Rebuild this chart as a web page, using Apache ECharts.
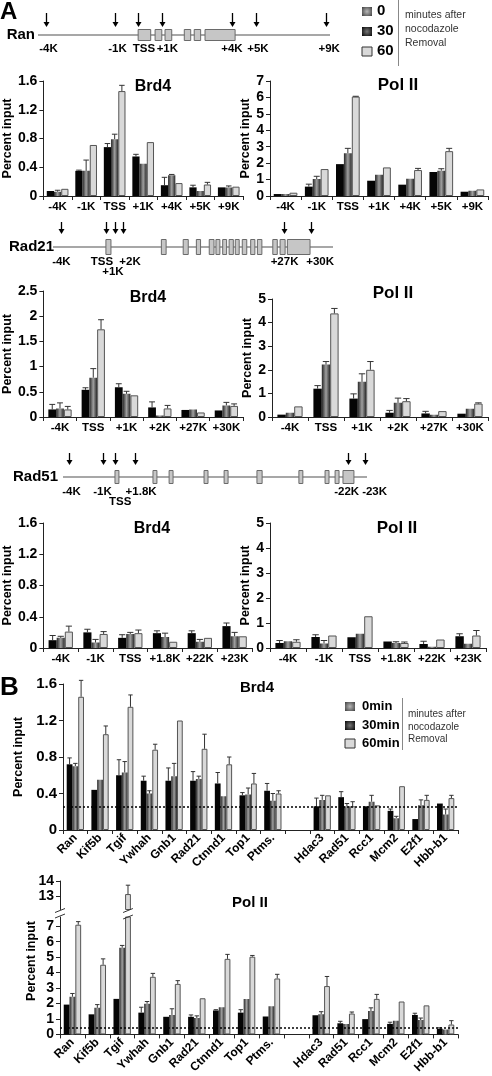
<!DOCTYPE html>
<html><head><meta charset="utf-8">
<script src="https://cdn.jsdelivr.net/npm/echarts@6/dist/echarts.min.js"></script>
<style>html,body{margin:0;padding:0;background:#fff}#c{width:492px;height:1076px}</style>
</head><body><div id="c"></div>
<script>
// ================= DATA =================
// Panel A — Ran
const ranSites = ['-4K','-1K','TSS','+1K','+4K','+5K','+9K'];
const ranBrd4_0   = [0.07,0.35,0.68,0.55,0.15,0.12,0.12];
const ranBrd4_30  = [0.06,0.35,0.79,0.45,0.29,0.07,0.12];
const ranBrd4_60  = [0.10,0.71,1.46,0.75,0.18,0.16,0.13];
const ranBrd4_0e  = [null,0.36,0.73,0.58,0.26,0.15,null];
const ranBrd4_30e = [0.08,0.50,0.86,null,0.30,null,0.14];
const ranBrd4_60e = [null,null,1.54,null,null,0.19,null];
const ranPol_0    = [0.12,0.57,1.94,0.93,0.69,1.46,0.26];
const ranPol_30   = [0.12,1.03,2.60,1.30,1.05,1.54,0.32];
const ranPol_60   = [0.20,1.64,6.05,1.74,1.58,2.73,0.40];
const ranPol_0e   = [null,0.72,null,null,null,null,null];
const ranPol_30e  = [null,1.20,2.90,null,null,1.66,null];
const ranPol_60e  = [null,null,6.07,null,1.68,2.90,null];
// Panel A — Rad21
const rad21Sites = ['-4K','TSS','+1K','+2K','+27K','+30K'];
const rad21Brd4_0   = [0.15,0.54,0.59,0.19,0.14,0.13];
const rad21Brd4_30  = [0.17,0.78,0.46,0.03,0.15,0.23];
const rad21Brd4_60  = [0.15,1.74,0.43,0.17,0.09,0.22];
const rad21Brd4_0e  = [0.25,0.58,0.66,0.30,null,null];
const rad21Brd4_30e = [0.28,0.96,0.51,null,null,0.29];
const rad21Brd4_60e = [0.21,1.93,null,0.23,null,0.26];
const rad21Pol_0    = [0.10,1.20,0.78,0.18,0.15,0.14];
const rad21Pol_30   = [0.18,2.22,1.49,0.60,0.10,0.35];
const rad21Pol_60   = [0.45,4.39,2.00,0.67,0.25,0.57];
const rad21Pol_0e   = [null,1.33,0.98,0.28,0.24,null];
const rad21Pol_30e  = [null,2.35,1.83,0.80,null,null];
const rad21Pol_60e  = [null,4.60,2.35,0.78,null,0.60];
// Panel A — Rad51
const rad51Sites = ['-4K','-1K','TSS','+1.8K','+22K','+23K'];
const rad51Brd4_0   = [0.10,0.20,0.13,0.19,0.19,0.28];
const rad51Brd4_30  = [0.13,0.07,0.18,0.14,0.08,0.15];
const rad51Brd4_60  = [0.21,0.18,0.19,0.08,0.13,0.15];
const rad51Brd4_0e  = [0.16,0.24,0.17,0.22,0.22,0.32];
const rad51Brd4_30e = [0.15,0.11,0.20,0.19,0.11,0.20];
const rad51Brd4_60e = [0.28,0.21,0.23,null,null,null];
const rad51Pol_0    = [0.20,0.44,0.43,0.26,0.16,0.47];
const rad51Pol_30   = [0.27,0.18,0.57,0.20,0.05,0.17];
const rad51Pol_60   = [0.25,0.50,1.27,0.20,0.34,0.50];
const rad51Pol_0e   = [0.30,0.53,null,null,0.27,0.57];
const rad51Pol_30e  = [null,0.30,null,0.25,null,null];
const rad51Pol_60e  = [0.33,null,null,0.24,null,0.70];
// Panel B
const bGenes = ['Ran','Kif5b','Tgif','Ywhah','Gnb1','Rad21','Ctnnd1','Top1','Ptms.','','Hdac3','Rad51','Rcc1','Mcm2','E2f1','Hbb-b1'];
const bBrd4_0   = [0.72,0.44,0.60,0.54,0.54,0.54,0.51,0.38,0.43,null,0.26,0.36,0.26,0.21,0.12,0.29];
const bBrd4_30  = [0.70,0.55,0.63,0.40,0.59,0.56,0.37,0.39,0.32,null,0.33,0.26,0.31,0.13,0.27,0.17];
const bBrd4_60  = [1.46,1.05,1.35,0.88,1.20,0.89,0.72,0.51,0.40,null,0.38,0.26,0.27,0.48,0.33,0.35];
const bBrd4_0e  = [0.79,null,0.77,0.59,0.68,0.64,0.63,0.41,0.51,null,0.35,0.42,null,0.23,null,null];
const bBrd4_30e = [0.73,null,0.75,0.43,0.73,0.59,null,0.46,0.40,null,0.38,0.29,0.38,0.15,0.33,0.23];
const bBrd4_60e = [1.64,1.14,1.48,0.94,null,1.05,0.80,0.62,0.43,null,null,0.31,null,null,0.38,0.38];
const bPol_0    = [1.93,1.30,2.30,1.41,1.14,1.14,1.55,1.41,1.16,null,1.24,0.72,0.99,0.68,1.26,0.37];
const bPol_30   = [2.44,1.72,5.61,1.99,1.26,1.06,1.76,2.30,1.82,null,1.30,0.68,1.51,0.89,0.93,0.31];
const bPol_60   = [7.10,4.51,13.13,3.73,3.27,2.34,4.89,5.03,3.62,null,3.13,1.35,2.30,2.13,1.88,0.64];
const bPol_0e   = [null,null,null,1.76,null,1.26,1.60,1.60,null,null,null,0.85,null,0.79,1.37,0.43];
const bPol_30e  = [2.65,1.93,5.76,2.13,1.66,1.20,null,null,null,null,1.47,null,1.72,null,1.06,null];
const bPol_60e  = [7.30,4.89,13.72,3.95,3.48,null,5.18,5.11,3.89,null,3.75,1.45,2.59,null,null,0.89];
const bBrd4Background = 0.26;
const bPolBackground = 0.40;
const polLowerTicks = [0,1,2,3,4,5,6,7];
const polUpperTicks = [13,14];
// Gene schematics (schematic units 0–100 along the drawn gene line)
const ranExons = [[34.3,38.6],[40.1,42.4],[43.5,45.8],[50.1,52.3],[53.5,55.7],[57.2,67.5]];
const ranPrimers = [2.7,26.4,34.1,42.4,66.5,74.5,98.5];
const ranPrimerLabels = [[3.6,0,'-4K'],[27.2,0,'-1K'],[36.3,0,'TSS'],[44.3,0,'+1K'],[66.4,0,'+4K'],[75.3,0,'+5K'],[99.7,0,'+9K']];
const rad21Exons = [[18.9,20.7],[38.7,40.4],[46.5,48.3],[51.2,52.7],[55.8,57.5],[58.2,59.6],[60.6,62.0],[62.9,64.4],[65.1,66.5],[67.6,69.2],[70.6,72.1],[73.0,74.6],[78.5,80.1],[81.1,82.9],[83.7,91.8]];
const rad21Primers = [2.9,18.9,22.1,25.1,82.6,92.1];
const rad21PrimerLabels = [[3.0,0,'-4K'],[17.5,0,'TSS'],[27.5,0,'+2K'],[21.4,1,'+1K'],[82.7,0,'+27K'],[95.4,0,'+30K']];
const rad51Exons = [[17.1,18.4],[29.6,30.9],[34.9,36.2],[46.4,47.7],[53.0,54.3],[63.8,65.5],[77.6,78.9],[86.2,87.5],[89.5,90.8],[92.1,95.7]];
const rad51Primers = [2.0,13.3,17.1,23.7,93.6,99.3];
const rad51PrimerLabels = [[2.8,0,'-4K'],[13.0,0,'-1K'],[25.7,0,'+1.8K'],[18.8,1,'TSS'],[93.3,0,'-22K'],[102.5,0,'-23K']];

// ================= STYLE / BUILD =================
const FONT = '"Liberation Sans", Arial, sans-serif';
const barStyles = [
  {color:'#050505'},
  {color:{type:'linear',x:0,y:0,x2:1,y2:0,colorStops:[{offset:0,color:'#262626'},{offset:0.5,color:'#a0a0a0'},{offset:1,color:'#262626'}]}},
  {color:'#d9d9d9', borderColor:'#555', borderWidth:1}
];
const grids=[], xAxes=[], yAxes=[], series=[];

function makeErr(gapFrac){
  return function(params, api){
    const cat=api.value(0), v=api.value(1), e=api.value(2), k=api.value(3);
    const band=api.size([1,0])[0];
    const bw=band*(1-gapFrac)/3;
    const b=api.coord([cat,v]), t=api.coord([cat,e]);
    const cx=b[0]+(k-1)*bw, hw=Math.max(2,bw*0.38);
    const st={stroke:'#333',lineWidth:1};
    return {type:'group',children:[
      {type:'line',shape:{x1:cx,y1:b[1],x2:cx,y2:t[1]},style:st},
      {type:'line',shape:{x1:cx-hw,y1:t[1],x2:cx+hw,y2:t[1]},style:st}
    ]};
  };
}

function addBars(p){
  const gi=grids.length;
  grids.push(p.grid);
  const showX = p.showX!==false;
  xAxes.push({type:'category',gridIndex:gi,data:p.cats,boundaryGap:true,
    axisLine:{show:showX,lineStyle:{color:'#222',width:1}},
    axisTick:{show:showX,alignWithLabel:false,interval:0,length:4,lineStyle:{color:'#222'}},
    axisLabel:Object.assign({show:showX,interval:0,color:'#000',fontFamily:FONT,fontWeight:'bold',fontSize:11.5,margin:5},p.xLabel||{})});
  const y={type:'value',gridIndex:gi,min:p.yMin,max:p.yMax,splitLine:{show:false},
    axisLine:{show:true,onZero:false,lineStyle:{color:'#222'}},
    axisTick:{show:true,length:4,lineStyle:{color:'#222'}},
    axisLabel:{color:'#000',fontFamily:FONT,fontWeight:'bold',fontSize:p.yFont||14,margin:6,
      formatter:v=>String(+(+v).toFixed(2))},
    name:p.yName||'',nameLocation:'middle',nameGap:p.nameGap||25,nameRotate:90,
    nameTextStyle:{color:'#000',fontFamily:FONT,fontWeight:'bold',fontSize:12.5}};
  if(p.yInterval!=null) y.interval=p.yInterval;
  if(p.ticks){ y.axisLabel.customValues=p.ticks; y.axisTick.customValues=p.ticks; }
  yAxes.push(y);
  const gap=p.gap;
  p.vals.forEach((arr,k)=>{
    const s={type:'bar',xAxisIndex:gi,yAxisIndex:gi,data:arr,barGap:'0%',barCategoryGap:(gap*100)+'%',
      itemStyle:barStyles[k],clip:true,silent:true};
    if(k===2 && p.threshold!=null){
      s.markLine={silent:true,symbol:'none',label:{show:false},animation:false,
        lineStyle:{type:[2,2],color:'#000',width:1.5},data:[{yAxis:p.threshold}]};
    }
    series.push(s);
  });
  const ed=[];
  p.errs.forEach((arr,k)=>arr.forEach((e,i)=>{
    const v=p.vals[k][i];
    if(e!=null && v!=null && v<=p.yMax && v>=p.yMin && (!p.errClip || e<=p.yMax)) ed.push([i,v,e,k]);
  }));
  series.push({type:'custom',xAxisIndex:gi,yAxisIndex:gi,data:ed,renderItem:makeErr(gap),silent:true,z:5,encode:{x:0,y:1}});
  return gi;
}

function addGene(g){
  const gi=grids.length;
  grids.push({left:g.x0,width:g.x1-g.x0,top:g.y-10,height:20});
  xAxes.push({type:'value',gridIndex:gi,min:0,max:100,show:false});
  yAxes.push({type:'value',gridIndex:gi,min:-1,max:1,show:false});
  const base={type:'custom',xAxisIndex:gi,yAxisIndex:gi,silent:true};
  series.push(Object.assign({},base,{data:[[0,100]],z:1,renderItem:(pr,api)=>{
    const a=api.coord([api.value(0),0]), b=api.coord([api.value(1),0]);
    return {type:'group',children:[
      {type:'line',shape:{x1:a[0],y1:a[1],x2:b[0],y2:b[1]},style:{stroke:'#8a8a8a',lineWidth:1.3}},
      {type:'text',x:a[0]+g.nameDx,y:a[1],style:{text:g.name,align:'right',verticalAlign:'middle',font:'bold 15px '+FONT,fill:'#000'}}
    ]};}}));
  series.push(Object.assign({},base,{data:g.exons,z:2,renderItem:(pr,api)=>{
    const a=api.coord([api.value(0),0]), b=api.coord([api.value(1),0]);
    return {type:'rect',shape:{x:a[0],y:a[1]-g.h/2,width:b[0]-a[0],height:g.h},style:{fill:'#c6c6c6',stroke:'#6a6a6a',lineWidth:1}};}}));
  series.push(Object.assign({},base,{data:g.primers.map(v=>[v,0]),z:3,renderItem:(pr,api)=>{
    const c=api.coord([api.value(0),0]); const x=Math.round(c[0])+0.5;
    const y1=c[1]+g.arrTop, y2=c[1]+g.arrBot;
    return {type:'group',children:[
      {type:'line',shape:{x1:x,y1:y1,x2:x,y2:y2-3},style:{stroke:'#000',lineWidth:1.3}},
      {type:'polygon',shape:{points:[[x-3,y2-5],[x+3,y2-5],[x,y2]]},style:{fill:'#000'}}
    ]};}}));
  series.push(Object.assign({},base,{data:g.labels.map(l=>[l[0],l[1]]),z:3,renderItem:(pr,api)=>{
    const c=api.coord([api.value(0),0]); const t=g.labels[pr.dataIndex][2];
    return {type:'text',x:c[0],y:c[1]+g.lblDy+api.value(1)*10,style:{text:t,align:'center',verticalAlign:'middle',font:'bold 11.5px '+FONT,fill:'#000'}};}}));
}

// ---- Gene diagrams ----
addGene({name:'Ran',x0:38,x1:330,y:35,h:11,nameDx:-3,arrTop:-22,arrBot:-8,lblDy:14,exons:ranExons,primers:ranPrimers,labels:ranPrimerLabels});
addGene({name:'Rad21',x0:53,x1:333,y:247,h:15,nameDx:1,arrTop:-25,arrBot:-13,lblDy:15,exons:rad21Exons,primers:rad21Primers,labels:rad21PrimerLabels});
addGene({name:'Rad51',x0:63,x1:367,y:477,h:13,nameDx:-5,arrTop:-24,arrBot:-12,lblDy:15,exons:rad51Exons,primers:rad51Primers,labels:rad51PrimerLabels});

// ---- Panel A charts ----
addBars({grid:{left:39,width:204,top:81,height:115},cats:ranSites,vals:[ranBrd4_0,ranBrd4_30,ranBrd4_60],errs:[ranBrd4_0e,ranBrd4_30e,ranBrd4_60e],yMin:0,yMax:1.6,yInterval:0.4,yName:'Percent input',nameGap:24,gap:0.24});
addBars({grid:{left:270,width:218,top:81,height:115},cats:ranSites,vals:[ranPol_0,ranPol_30,ranPol_60],errs:[ranPol_0e,ranPol_30e,ranPol_60e],yMin:0,yMax:7,yInterval:1,yName:'Percent input',nameGap:11,gap:0.24});
addBars({grid:{left:39,width:204,top:291,height:126},cats:rad21Sites,vals:[rad21Brd4_0,rad21Brd4_30,rad21Brd4_60],errs:[rad21Brd4_0e,rad21Brd4_30e,rad21Brd4_60e],yMin:0,yMax:2.5,yInterval:0.5,yName:'Percent input',nameGap:24,gap:0.3});
addBars({grid:{left:272,width:216,top:299,height:118},cats:rad21Sites,vals:[rad21Pol_0,rad21Pol_30,rad21Pol_60],errs:[rad21Pol_0e,rad21Pol_30e,rad21Pol_60e],yMin:0,yMax:5,yInterval:1,yName:'Percent input',nameGap:12,gap:0.3});
addBars({grid:{left:39,width:213,top:523,height:125},cats:rad51Sites,vals:[rad51Brd4_0,rad51Brd4_30,rad51Brd4_60],errs:[rad51Brd4_0e,rad51Brd4_30e,rad51Brd4_60e],yMin:0,yMax:1.6,yInterval:0.4,yName:'Percent input',nameGap:22,gap:0.3});
addBars({grid:{left:270,width:216,top:523,height:125},cats:rad51Sites,vals:[rad51Pol_0,rad51Pol_30,rad51Pol_60],errs:[rad51Pol_0e,rad51Pol_30e,rad51Pol_60e],yMin:0,yMax:5,yInterval:1,yName:'Percent input',nameGap:11,gap:0.3});

// ---- Panel B ----
const bX={rotate:45,fontSize:12,margin:6};
addBars({grid:{left:63,width:395,top:684,height:146},cats:bGenes,vals:[bBrd4_0,bBrd4_30,bBrd4_60],errs:[bBrd4_0e,bBrd4_30e,bBrd4_60e],yMin:0,yMax:1.6,yInterval:0.4,yName:'Percent input',nameGap:23,gap:0.3,threshold:bBrd4Background,xLabel:bX,yFont:15});
const upMin=12.1;
const giUp = addBars({grid:{left:60,width:398,top:881,height:28.5},cats:bGenes,showX:false,vals:[bPol_0.map(()=>null),bPol_30.map(()=>null),bPol_60.map(v=>v!=null&&v>upMin?v:null)],errs:[bPol_0e.map(()=>null),bPol_30e.map(()=>null),bPol_60e],yMin:upMin,yMax:14,ticks:polUpperTicks,gap:0.3});
const giLow = addBars({grid:{left:60,width:398,top:917,height:124},cats:bGenes,vals:[bPol_0,bPol_30,bPol_60],errs:[bPol_0e,bPol_30e,bPol_60e],yMin:0,yMax:7.6,ticks:polLowerTicks,gap:0.3,threshold:bPolBackground,xLabel:bX,errClip:true});

// ---- Texts / legends ----
function txt(x,y,t,font,extra){return Object.assign({type:'text',x:x,y:y,silent:true,style:Object.assign({text:t,font:font,fill:'#000',align:'left',verticalAlign:'middle'},extra||{})});}
function sq(x,y,fill,stroke){return {type:'rect',silent:true,shape:{x:x,y:y,width:10,height:9},style:{fill:fill,stroke:stroke||null,lineWidth:1}};}
const gGrey={type:'radial',x:0.5,y:0.5,r:0.7,colorStops:[{offset:0,color:'#b8b8b8'},{offset:1,color:'#454545'}]};
const gDark={type:'radial',x:0.5,y:0.5,r:0.7,colorStops:[{offset:0,color:'#777'},{offset:1,color:'#0a0a0a'}]};
const graphics=[
  txt(0,12,'A','bold 24px '+FONT),
  txt(0,688,'B','bold 26px '+FONT),
  // panel A legend
  sq(362,7,gGrey), sq(362,27,gDark), sq(362,47,'#d9d9d9','#333'),
  txt(377,11,'0','bold 15px '+FONT), txt(377,31,'30','bold 15px '+FONT), txt(377,51,'60','bold 15px '+FONT),
  {type:'line',silent:true,shape:{x1:398.5,y1:0,x2:398.5,y2:66},style:{stroke:'#888',lineWidth:1}},
  txt(405,15,'minutes after','10.5px '+FONT,{fill:'#333'}), txt(405,29,'nocodazole','10.5px '+FONT,{fill:'#333'}), txt(405,43,'Removal','10.5px '+FONT,{fill:'#333'}),
  // chart titles
  txt(153,87,'Brd4','bold 16px '+FONT,{align:'center'}),
  txt(398,85,'Pol II','bold 17px '+FONT,{align:'center'}),
  txt(148,298,'Brd4','bold 16px '+FONT,{align:'center'}),
  txt(393,293,'Pol II','bold 17px '+FONT,{align:'center'}),
  txt(152,529,'Brd4','bold 16px '+FONT,{align:'center'}),
  txt(397,528,'Pol II','bold 17px '+FONT,{align:'center'}),
  txt(257,688,'Brd4','bold 15px '+FONT,{align:'center'}),
  txt(250,903,'Pol II','bold 15px '+FONT,{align:'center'}),
  // panel B legend
  sq(345,702,gGrey), sq(345,721,gDark), sq(345,739,'#d9d9d9','#333'),
  txt(362,706,'0min','bold 13px '+FONT), txt(362,725,'30min','bold 13px '+FONT), txt(362,743,'60min','bold 13px '+FONT),
  {type:'line',silent:true,shape:{x1:402.5,y1:698,x2:402.5,y2:750},style:{stroke:'#888',lineWidth:1}},
  txt(408,714,'minutes after','10px '+FONT,{fill:'#333'}), txt(408,727,'nocodazole','10px '+FONT,{fill:'#333'}), txt(408,739,'Removal','10px '+FONT,{fill:'#333'}),
  // B Pol II y name (spans broken axis)
  {type:'text',x:32,y:961,rotation:Math.PI/2,silent:true,style:{text:'Percent input',font:'bold 12.5px '+FONT,fill:'#000',align:'center',verticalAlign:'middle'}}
];

const option={animation:false,textStyle:{fontFamily:FONT},grid:grids,xAxis:xAxes,yAxis:yAxes,series:series,graphic:{elements:graphics}};
const chart=echarts.init(document.getElementById('c'),null,{renderer:'canvas'});
chart.setOption(option);

// axis-break marks on the broken Pol II axis, positioned through the axes
const lowTop=chart.convertToPixel({xAxisIndex:giLow,yAxisIndex:giLow},[2,7.6]);
const nextCat=chart.convertToPixel({xAxisIndex:giLow,yAxisIndex:giLow},[3,7.6]);
const upBot=chart.convertToPixel({xAxisIndex:giUp,yAxisIndex:giUp},[2,upMin]);
const band=nextCat[0]-lowTop[0], bw=band*0.7/3, barX=lowTop[0]+bw;
const axX=chart.convertToPixel({xAxisIndex:giLow,yAxisIndex:giLow},[0,0])[0]-band/2;
function slash(x,y,w){return {type:'line',silent:true,z:100,shape:{x1:x-w,y1:y+2,x2:x+w,y2:y-2},style:{stroke:'#333',lineWidth:1}};}
graphics.push(
  {type:'rect',silent:true,z:99,shape:{x:axX-6,y:upBot[1]+1,width:8,height:lowTop[1]-upBot[1]-2},style:{fill:'#fff'}},
  slash(axX,upBot[1]+1,5), slash(axX,lowTop[1]-1,5),
  slash(barX,upBot[1]+1,bw/2+2), slash(barX,lowTop[1],bw/2+2)
);
option.graphic={elements:graphics};
chart.setOption(option,true);
</script></body></html>
